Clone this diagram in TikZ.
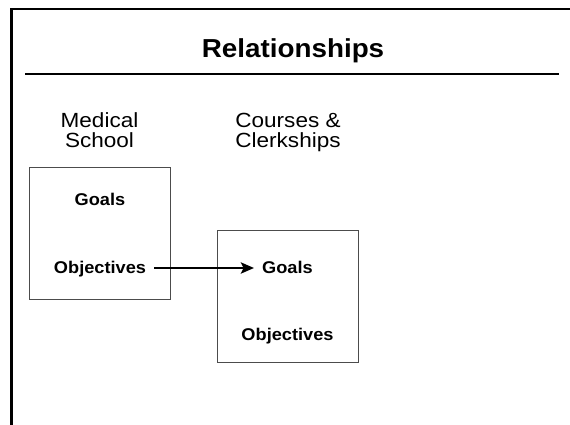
\documentclass[tikz,border=0pt]{standalone}
\usepackage{fontspec}
\setmainfont{Liberation Sans}[FakeStretch=1.07]
\newfontfamily\lblfont{Liberation Sans}[FakeStretch=1.1]
\usetikzlibrary{arrows.meta,positioning,calc}
\tikzset{
  frame/.style={line width=2.5pt, black},
  rule/.style={line width=2pt, black},
  box/.style={rectangle, draw=black!70, line width=0.9pt, minimum width=141pt, minimum height=132pt, inner sep=0pt},
  boxtext/.style={font=\fontsize{17}{20}\selectfont\bfseries, text height=13pt, text depth=3pt, inner xsep=8pt, inner ysep=2pt, anchor=base},
  lbl/.style={font=\lblfont\fontsize{20.5}{20}\selectfont, align=center, inner sep=0pt, anchor=base},
  link/.style={-{Stealth[length=13pt,width=11pt,inset=2.5pt]}, line width=2.8pt}
}

\begin{document}
\begin{tikzpicture}[x=1pt,y=1pt]
  \useasboundingbox (0,0) rectangle (570,424);
  % slide frame and title
  \draw[frame] (11.5,-5) |- (580,415);
  \node[font=\fontsize{26}{30}\selectfont\bfseries, anchor=base] (title) at (293,366) {Relationships};
  \draw[rule] (25,350) -- (559,350);
  % medical school level
  \node[box] (ms) at (99.5,191) {};
  \node[lbl] (mslbl) at (99.5,277) {Medical\\School};
  \node[boxtext] (msgoals) at (100,219) {Goals};
  \node[boxtext] (msobj) at (100,151) {Objectives};
  % courses and clerkships level
  \node[box] (cc) at (287.5,127.5) {};
  \node[lbl] (cclbl) at (288,277) {Courses \&\\Clerkships};
  \node[boxtext] (ccgoals) at (287.5,151) {Goals};
  \node[boxtext] (ccobj) at (287.5,84) {Objectives};
  \draw[link] (msobj.east) -- (ccgoals.west);
\end{tikzpicture}
\end{document}
